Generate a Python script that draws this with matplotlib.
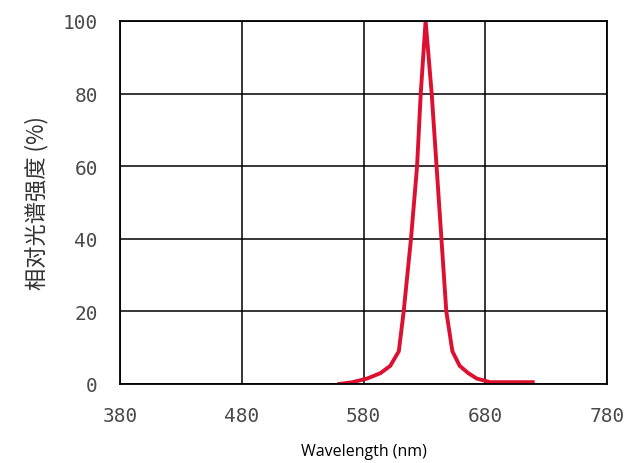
import matplotlib
matplotlib.use("Agg")
import matplotlib.pyplot as plt

# spectrum (wavelength nm, relative intensity %)
wavelength = [560, 571, 583, 594, 602, 609, 613, 619, 624, 627, 631, 636, 640, 644, 648, 653, 659, 666, 673, 684, 700, 719]
intensity = [0, 0.5, 1.5, 3, 5, 9, 20, 40, 60, 80, 100, 80, 60, 40, 20, 9, 5, 3, 1.5, 0.5, 0.5, 0.5]

x_ticks = [380, 480, 580, 680, 780]
y_ticks = [0, 20, 40, 60, 80, 100]

fig = plt.figure(figsize=(6.3, 4.64), dpi=100)
ax = fig.add_axes([0.1905, 0.1703, 0.773, 0.7823])

ax.plot(wavelength, intensity, color="#dc1030", lw=2.8, solid_joinstyle="round")

ax.set_xlim(380, 780)
ax.set_ylim(0, 100)
ax.set_xticks(x_ticks)
ax.set_yticks(y_ticks)
ax.grid(True, color="black", lw=1.1)
ax.set_axisbelow(True)
for s in ax.spines.values():
    s.set_linewidth(1.3)
ax.tick_params(length=0, labelsize=14, labelcolor="#4a4a4a", pad=16)
for lab in ax.get_xticklabels() + ax.get_yticklabels():
    lab.set_family("DejaVu Sans Mono")

ax.set_ylabel("相对光谱强度 (%)", family=["Noto Sans CJK SC", "DejaVu Sans"],
              fontsize=16, color="#333333", labelpad=10)
ax.set_xlabel("Wavelength (nm)", family="Open Sans", fontsize=11.5, labelpad=13)

fig.savefig("out.png", dpi=100)
